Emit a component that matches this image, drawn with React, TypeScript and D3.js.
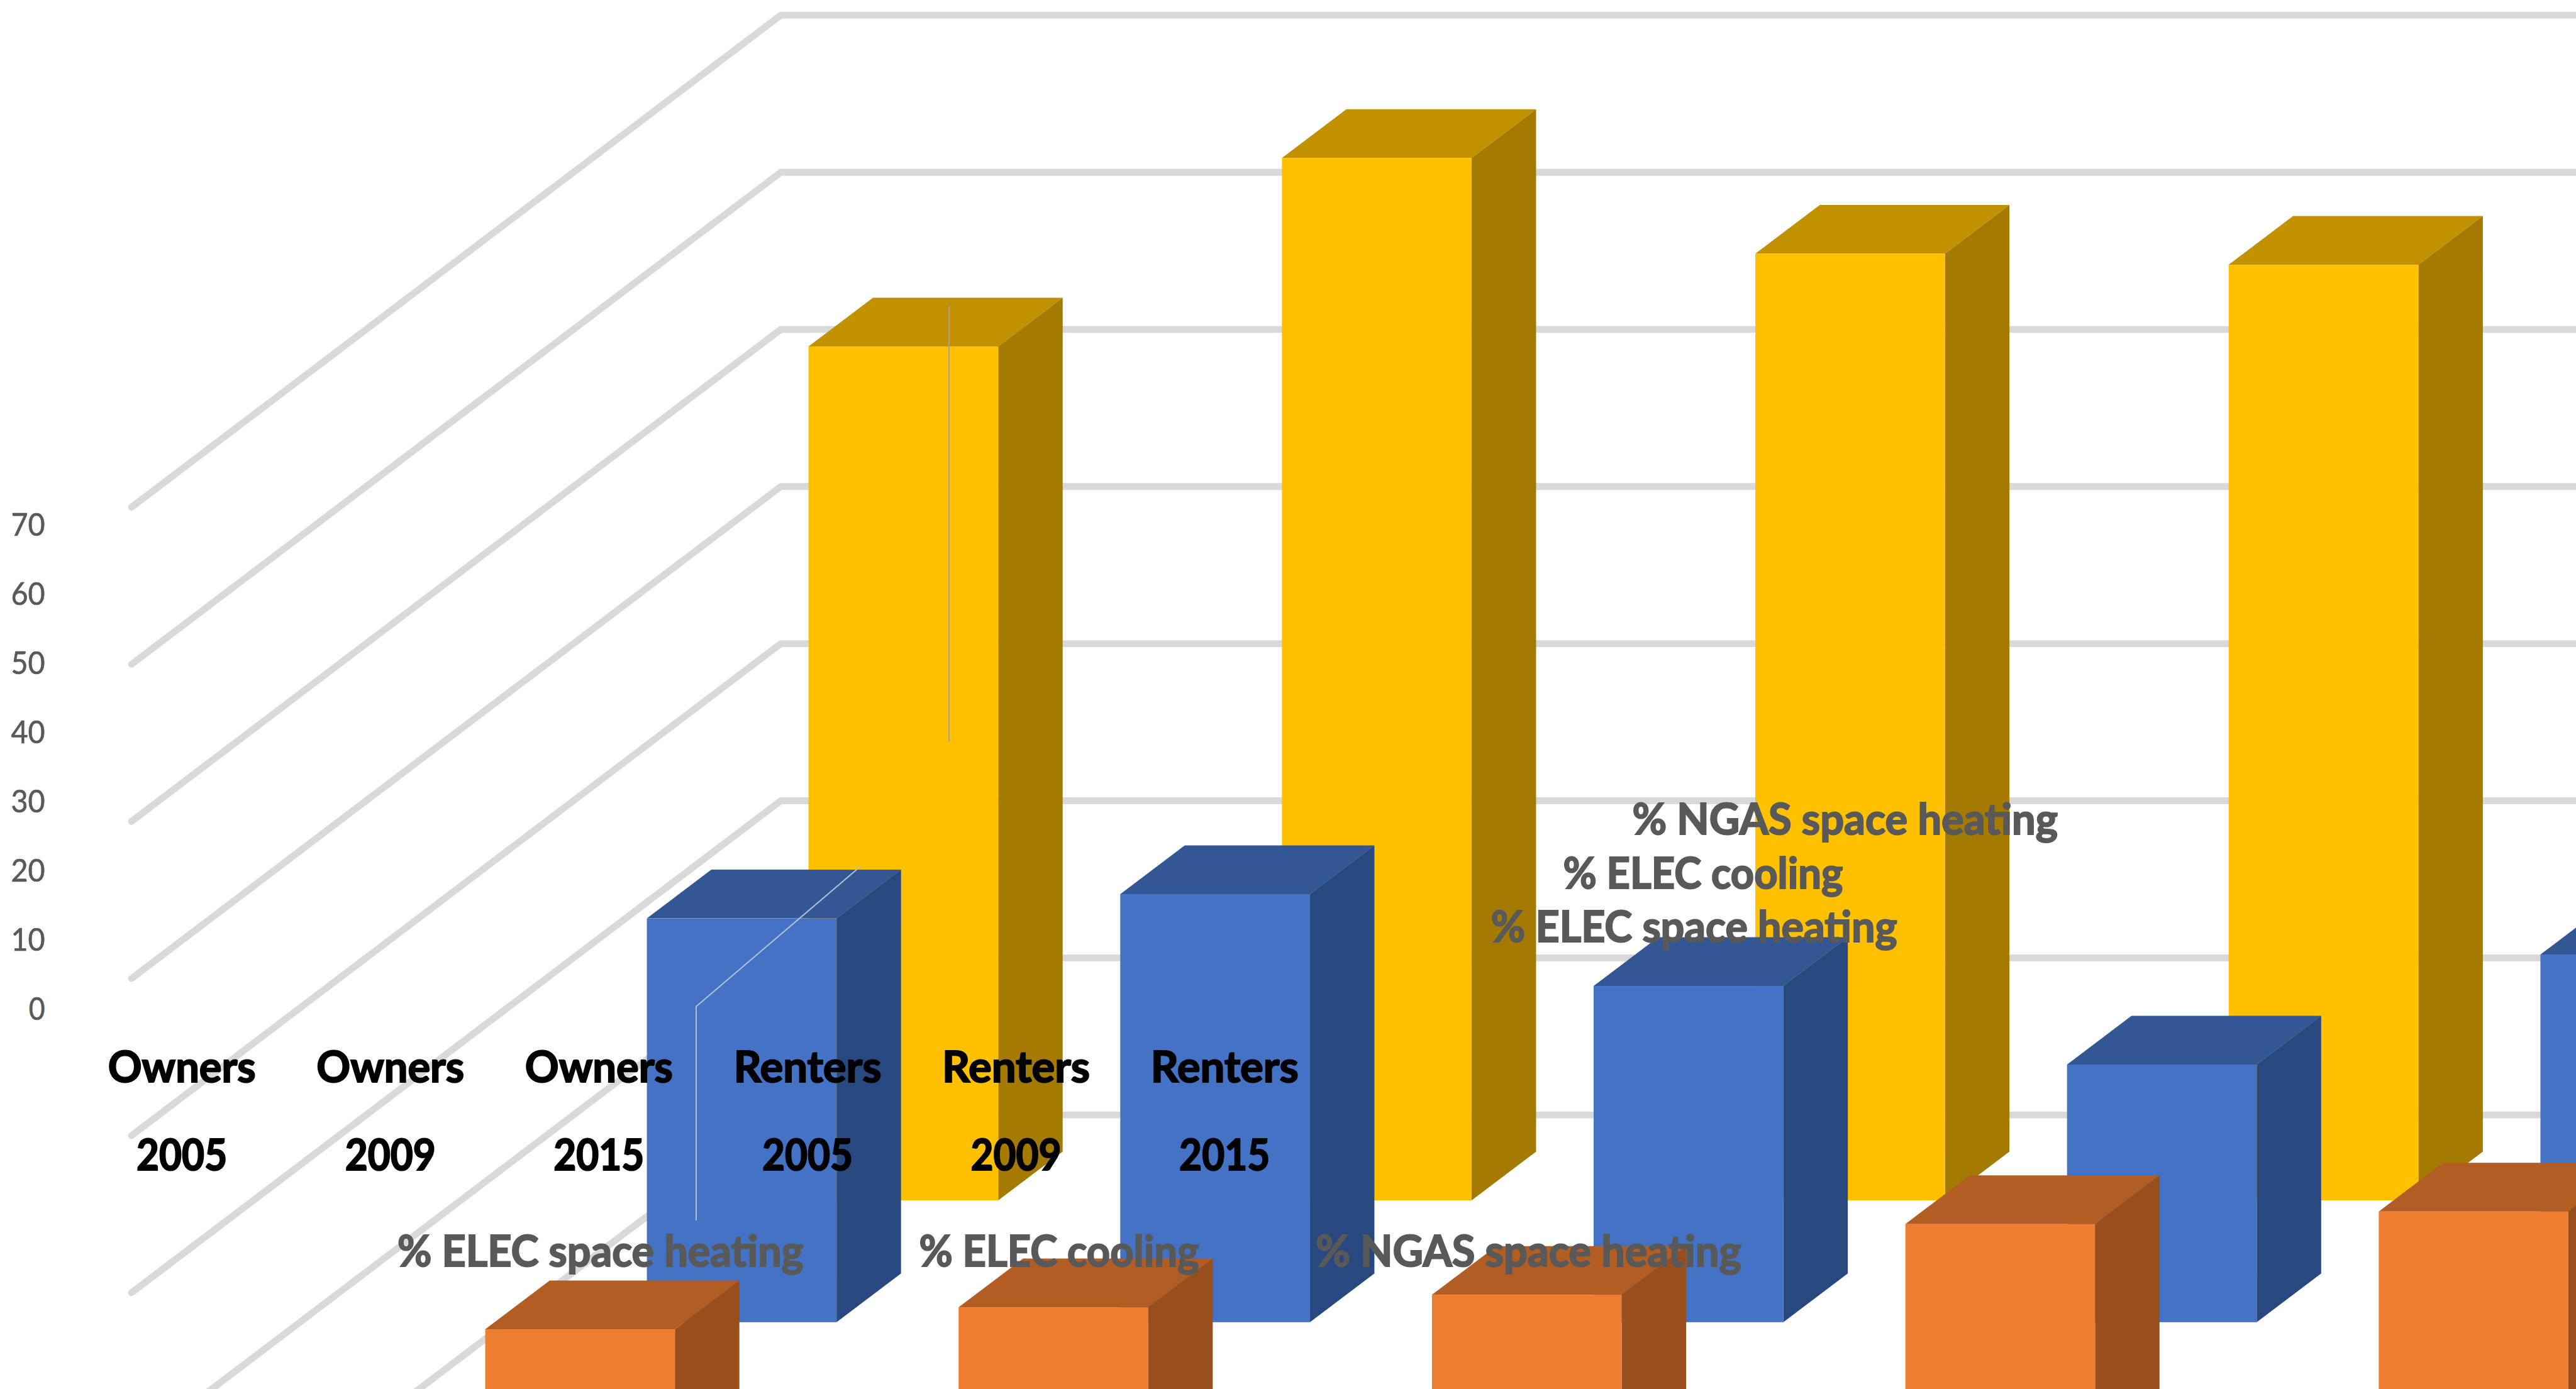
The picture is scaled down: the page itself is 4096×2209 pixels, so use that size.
import React from "react";
import * as d3 from "d3";

// Chart data
const categories = ["Owners 2005", "Owners 2009", "Owners 2015", "Renters 2005", "Renters 2009", "Renters 2015"];
const categoryGroups = ["Owners", "Owners", "Owners", "Renters", "Renters", "Renters"];
const categoryYears = ["2005", "2009", "2015", "2005", "2009", "2015"];
const seriesNames = ["% NGAS space heating", "% ELEC cooling", "% ELEC space heating"];
const ngasHeating = [54.35, 66.35, 60.25, 59.55];
const elecCooling = [25.7, 27.25, 21.4, 16.4, 23.4];
const elecHeating = [7.3, 8.7, 9.5, 14.0, 14.8];
const valueTicks = [0, 10, 20, 30, 40, 50, 60, 70];

// Canvas in drawing units; the viewBox scales it to the window
const W = 4916;
const H = 2651;

// Projection of the oblique box
const wallX = 1490;
const floorLeftX = 251;
const wallLeftDrop = 939;
const gridY = d3.scaleLinear().domain([0, 70]).range([2128, 29]);
const unitHeight = d3.scaleLinear().domain([0, 70]).range([0, 2099]);
const tickLabelY = d3.scaleLinear().domain([0, 70]).range([1925, 1000]);
const columnOffset = d3.scalePoint<string>().domain(categories).range([0, 903.4 * 5]);
const rowLeft = d3.scalePoint<string>().domain(seriesNames).range([1543, 926]);
const rowBase = d3.scalePoint<string>().domain(seriesNames).range([2291, 2756]);
const barWidth = 362;
const depthX = 123;
const depthY = 93;

const labelX = d3.scalePoint<string>().domain(categories).range([347, 347 + 398 * 5]);

const rows = [
  { name: seriesNames[0], values: ngasHeating, front: "#FFC000", top: "#C19100", side: "#A47B00" },
  { name: seriesNames[1], values: elecCooling, front: "#4472C4", top: "#335694", side: "#2A4880" },
  { name: seriesNames[2], values: elecHeating, front: "#ED7D31", top: "#B25D24", side: "#984F1D" },
];

// Two sets of series captions, one along the floor and one stacked behind the bars
const captionWidth: Record<string, number> = {
  "% NGAS space heating": 812,
  "% ELEC cooling": 534,
  "% ELEC space heating": 775,
};
const captions = [
  { text: seriesNames[2], cx: 1146, y: 2416 },
  { text: seriesNames[1], cx: 2021, y: 2416 },
  { text: seriesNames[0], cx: 2917, y: 2416 },
  { text: seriesNames[0], cx: 3521, y: 1591 },
  { text: seriesNames[1], cx: 3250, y: 1695 },
  { text: seriesNames[2], cx: 3233, y: 1797 },
];

const font = "Lato, Carlito, Calibri, sans-serif";
const polygon = d3.line<[number, number]>().curve(d3.curveLinearClosed);
const polyline = d3.line<[number, number]>();

function Bar({ x, base, value, row }: { x: number; base: number; value: number; row: (typeof rows)[number] }) {
  const h = unitHeight(value);
  const yTop = base - h;
  const xR = x + barWidth;
  return (
    <g>
      <path
        d={polygon([[x, yTop], [xR, yTop], [xR + depthX, yTop - depthY], [x + depthX, yTop - depthY]])!}
        fill={row.top}
      />
      <path
        d={polygon([[xR, yTop], [xR + depthX, yTop - depthY], [xR + depthX, base - depthY], [xR, base]])!}
        fill={row.side}
      />
      <rect x={x} y={yTop} width={barWidth} height={h} fill={row.front} />
    </g>
  );
}

export default function App() {
  return (
    <svg
      width={4096}
      height={2209}
      viewBox={`0 0 ${W} ${H}`}
      preserveAspectRatio="none"
      style={{ position: "fixed", left: 0, top: 0, display: "block", background: "#fff" }}
    >
      {/* Wall and side gridlines */}
      {valueTicks.map((t) => {
        const y = gridY(t);
        return (
          <path
            key={t}
            d={polyline([[floorLeftX, y + wallLeftDrop], [wallX, y], [W + 20, y]])!}
            fill="none"
            stroke="#D9D9D9"
            strokeWidth={13}
            strokeLinecap="round"
            strokeLinejoin="round"
          />
        );
      })}

      {/* Bars, back row first */}
      {rows.map((row) =>
        row.values.map((v, i) => (
          <Bar
            key={`${row.name}-${i}`}
            x={rowLeft(row.name)! + columnOffset(categories[i])!}
            base={rowBase(row.name)!}
            value={v}
            row={row}
          />
        ))
      )}

      {/* Thin leader lines crossing the first bars */}
      <g fill="none" strokeWidth={2.4}>
        <path
          d={polyline([
            [rowLeft(seriesNames[0])! + 268, gridY(0) - 1544],
            [rowLeft(seriesNames[0])! + 268, gridY(0) - 713],
          ])!}
          stroke="#A8A294"
        />
        <path
          d={polyline([
            [rowLeft(seriesNames[1])! + 94, gridY(0) + 201],
            [rowLeft(seriesNames[1])! + 94, gridY(0) - 207],
            [rowLeft(seriesNames[1])! + 407, gridY(0) - 474],
          ])!}
          stroke="#B4BFD4"
        />
      </g>

      {/* Value labels */}
      {valueTicks.map((t) => (
        <text
          key={t}
          x={86}
          y={tickLabelY(t)}
          dy="0.36em"
          textAnchor="end"
          fontFamily={font}
          fontSize={61}
          fill="#595959"
          stroke="#595959"
          strokeWidth={0.8}
          textLength={String(t).length > 1 ? 65 : 31}
          lengthAdjust="spacingAndGlyphs"
        >
          {t}
        </text>
      ))}

      {/* Category labels in two lines */}
      {categories.map((c, i) => (
        <g
          key={c}
          fontFamily={font}
          fontWeight={700}
          fontSize={82}
          fill="#000"
          stroke="#000"
          strokeWidth={2.5}
          textAnchor="middle"
        >
          <text x={labelX(c)} y={2065} textLength={282} lengthAdjust="spacingAndGlyphs">
            {categoryGroups[i]}
          </text>
          <text x={labelX(c)} y={2233} textLength={173} lengthAdjust="spacingAndGlyphs">
            {categoryYears[i]}
          </text>
        </g>
      ))}

      {/* Series captions */}
      {captions.map((c, i) => (
        <text
          key={i}
          x={c.cx}
          y={c.y + 1}
          textAnchor="middle"
          fontFamily={font}
          fontWeight={700}
          fontSize={82}
          fill="#595959"
          stroke="#595959"
          strokeWidth={2.5}
          textLength={captionWidth[c.text]}
          lengthAdjust="spacingAndGlyphs"
        >
          {c.text}
        </text>
      ))}
    </svg>
  );
}
